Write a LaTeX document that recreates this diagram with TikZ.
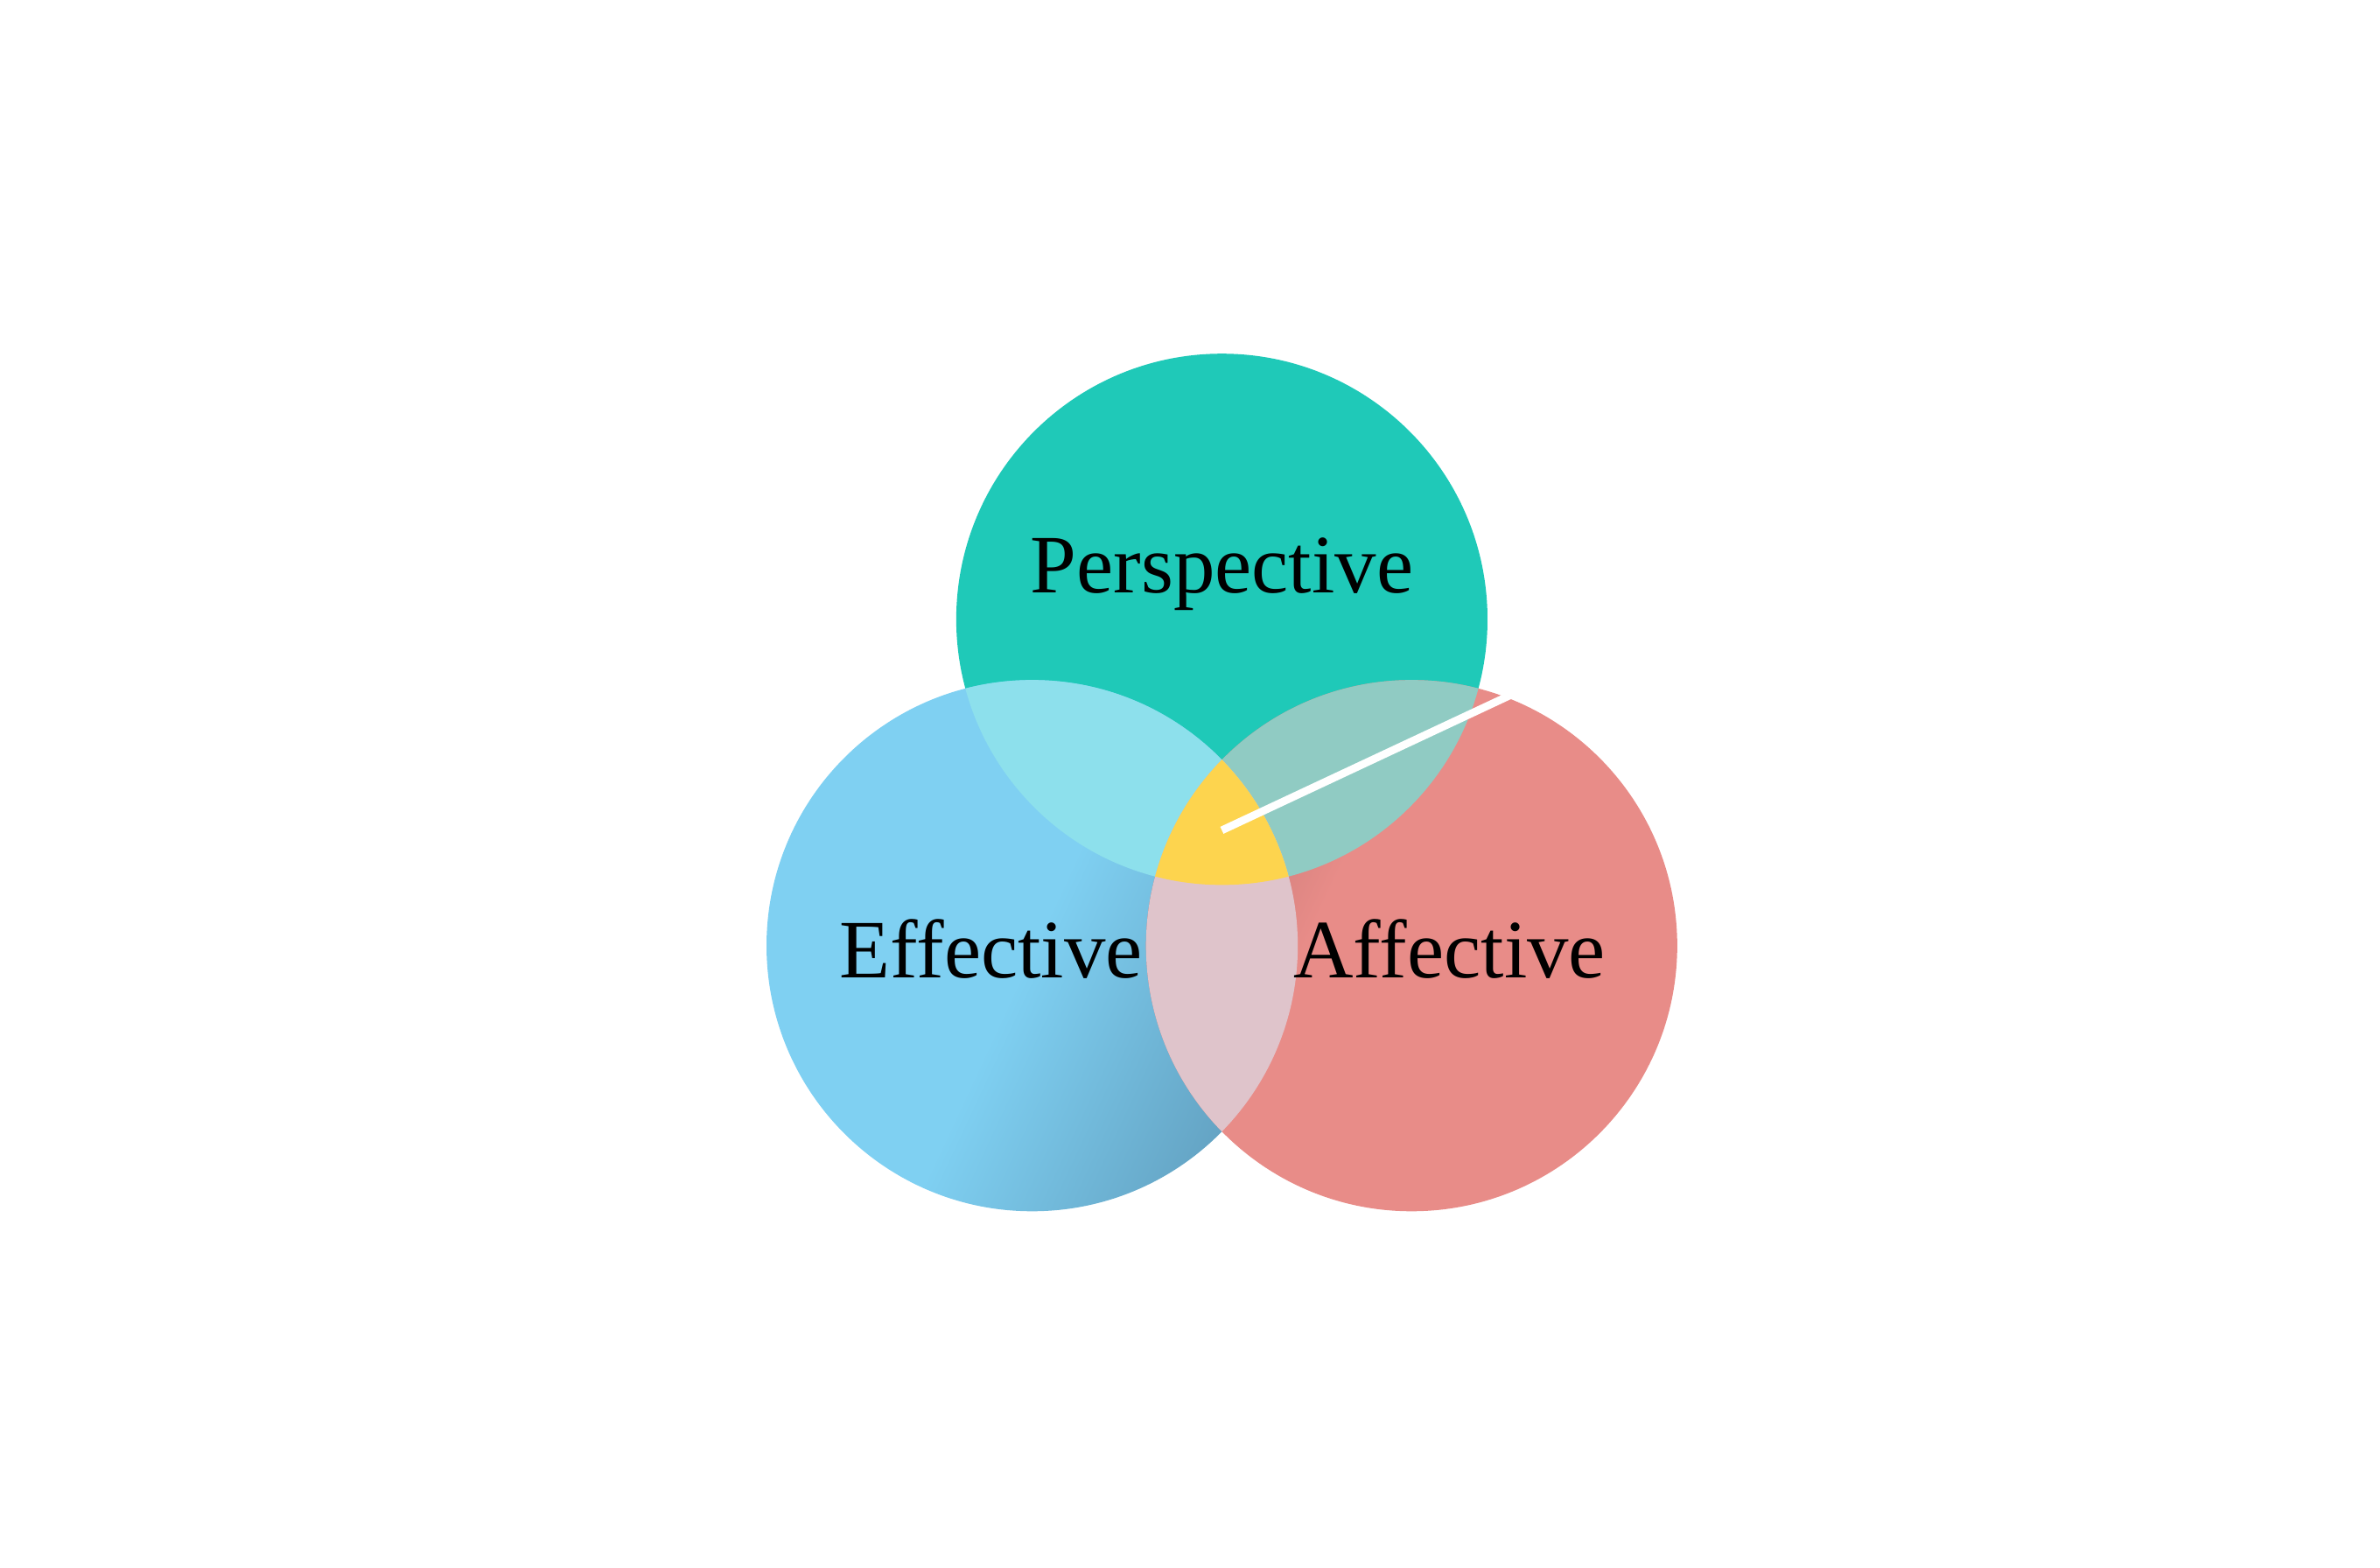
\documentclass[tikz,border=0pt]{standalone}
\usepackage{fontspec}
\setmainfont{Liberation Serif}
\definecolor{teal1}{HTML}{1FC9B8}
\definecolor{teald}{HTML}{12504C}
\definecolor{lb}{HTML}{7FD0F2}
\definecolor{mb}{HTML}{62A0C0}
\definecolor{db}{HTML}{1C2E38}
\definecolor{sa}{HTML}{E88C88}
\definecolor{sm}{HTML}{9A6060}
\definecolor{sd}{HTML}{3A2426}
\definecolor{lensL}{HTML}{8DE0EC}
\definecolor{lensR}{HTML}{90CBC3}
\definecolor{lensB}{HTML}{DFC4CB}
\definecolor{core}{HTML}{FDD44E}
\pgfdeclarehorizontalshading{leftsh}{100bp}{color(0bp)=(lb); color(50bp)=(lb); color(72bp)=(mb); color(84bp)=(mb); color(100bp)=(db)}
\pgfdeclarehorizontalshading{rightsh}{100bp}{color(0bp)=(sd); color(18bp)=(sm); color(42bp)=(sa); color(100bp)=(sa)}
\pgfdeclareradialshading{topsh}{\pgfpoint{0bp}{0bp}}{color(0bp)=(teal1); color(17bp)=(teal1); color(20bp)=(teald!70!teal1); color(25bp)=(teald)}
\tikzset{lbl/.style={font=\fontsize{27}{30}\selectfont, text=black}}
\begin{document}
\begin{tikzpicture}[x=0.017347cm,y=-0.017347cm]
\useasboundingbox (0,0) rectangle (1568,1033);
\def\R{175}
\coordinate (T) at (805,408);
\coordinate (L) at (680,623);
\coordinate (Rc) at (930,623);
% top circle
\begin{scope}
\clip (T) circle (\R);
\shade[shading=topsh] (805,310) circle (360);
\end{scope}
% left circle
\begin{scope}
\clip (L) circle (\R);
\shade[shading=leftsh, shading angle=-25] (480,420) rectangle (880,830);
\end{scope}
% right circle
\begin{scope}
\clip (Rc) circle (\R);
\shade[shading=rightsh, shading angle=-25] (730,420) rectangle (1130,830);
\end{scope}
% lenses
\begin{scope}\clip (T) circle (\R); \fill[lensL] (L) circle (\R); \end{scope}
\begin{scope}\clip (T) circle (\R); \fill[lensR] (Rc) circle (\R); \end{scope}
\begin{scope}\clip (L) circle (\R); \fill[lensB] (Rc) circle (\R); \end{scope}
\begin{scope}\clip (T) circle (\R); \clip (L) circle (\R); \fill[core] (Rc) circle (\R); \end{scope}
% labels
\node[lbl] (p) at (805,378) {Perspective};
\node[lbl] (e) at (653,625) {Effective};
\node[lbl] (a) at (955,625) {Affective};
% pointer
\coordinate (s) at (805,547);
\coordinate (f) at (995,458);
\draw[white, line width=2.5pt] (s) -- (f);
\end{tikzpicture}
\end{document}
